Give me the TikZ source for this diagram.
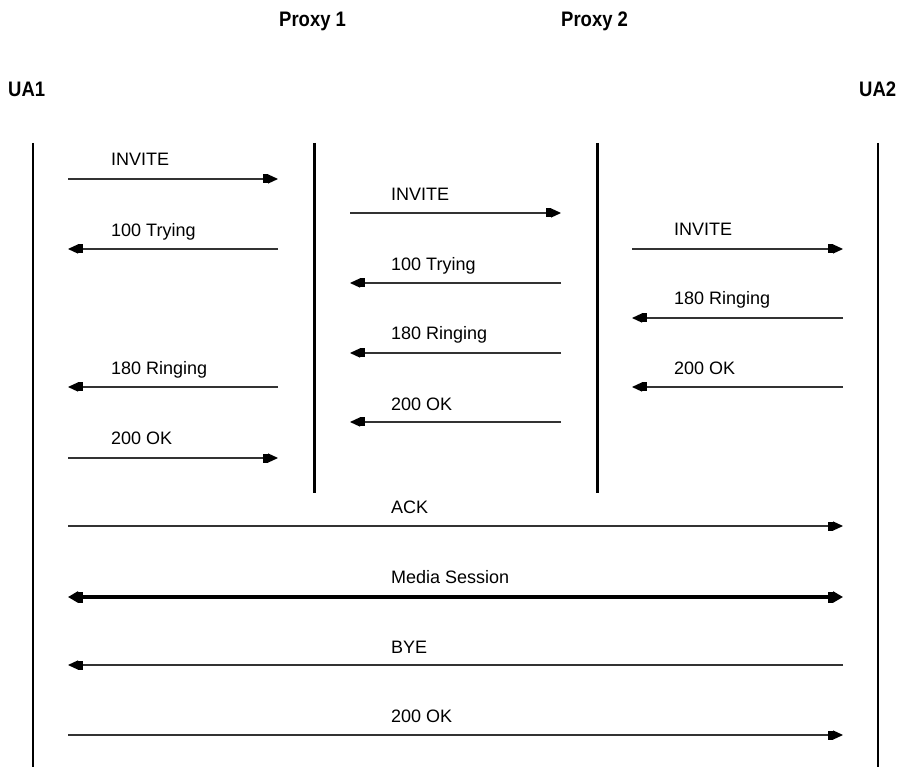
\documentclass[tikz,border=0pt]{standalone}
\usepackage{fontspec}
\setmainfont{Liberation Sans}
\newfontfamily\hdrfont[FakeStretch=0.88]{Liberation Sans}
\usetikzlibrary{arrows.meta}

\tikzset{
  lifeline/.style={line width=2pt, black},
  proxyline/.style={line width=3pt, black},
  head/.style={-{Rectangle[length=5pt,width=9pt,color=black]Triangle[length=10pt,width=9pt,color=black]}},
  msg/.style={draw=black!80, line width=1.2pt, head},
  media/.style={draw=black, line width=4pt,
    {Triangle[length=10pt,width=11pt]Rectangle[length=5pt,width=11pt]}-{Rectangle[length=5pt,width=11pt]Triangle[length=10pt,width=11pt]}},
  lbl/.style={anchor=base west, inner sep=0pt, font=\fontsize{18}{20}\selectfont},
  hdr/.style={anchor=base west, inner sep=0pt, font=\hdrfont\bfseries\fontsize{21}{24}\selectfont}
}

\begin{document}
\begin{tikzpicture}[x=1pt, y=-1pt]
  \useasboundingbox (0,0) rectangle (903,767);

  % participant headings
  \node[hdr] (hP1) at (279,27) {Proxy 1};
  \node[hdr] (hP2) at (561,27) {Proxy 2};
  \node[hdr] (hUA1) at (8,97) {UA1};
  \node[hdr] (hUA2) at (859,97) {UA2};

  % lifelines
  \coordinate (ua1t) at (33,143);  \coordinate (ua1b) at (33,767);
  \coordinate (p1t)  at (314,143); \coordinate (p1b)  at (314,493);
  \coordinate (p2t)  at (597,143); \coordinate (p2b)  at (597,493);
  \coordinate (ua2t) at (878,143); \coordinate (ua2b) at (878,767);
  \draw[lifeline]  (ua1t) -- (ua1b);
  \draw[proxyline] (p1t) -- (p1b);
  \draw[proxyline] (p2t) -- (p2b);
  \draw[lifeline]  (ua2t) -- (ua2b);

  % UA1 <-> Proxy 1
  \coordinate (m1a) at (68,179);  \coordinate (m1b) at (278,179);
  \draw[msg] (m1a) -- (m1b);
  \node[lbl] (t1) at (111,166) {INVITE};

  \coordinate (m2a) at (278,249); \coordinate (m2b) at (68,249);
  \draw[msg] (m2a) -- (m2b);
  \node[lbl] (t2) at (111,237) {100 Trying};

  \coordinate (m3a) at (278,387); \coordinate (m3b) at (68,387);
  \draw[msg] (m3a) -- (m3b);
  \node[lbl] (t3) at (111,375) {180 Ringing};

  \coordinate (m4a) at (68,458);  \coordinate (m4b) at (278,458);
  \draw[msg] (m4a) -- (m4b);
  \node[lbl] (t4) at (111,445) {200 OK};

  % Proxy 1 <-> Proxy 2
  \coordinate (n1a) at (350,213); \coordinate (n1b) at (561,213);
  \draw[msg] (n1a) -- (n1b);
  \node[lbl] (u1) at (391,201) {INVITE};

  \coordinate (n2a) at (561,283); \coordinate (n2b) at (350,283);
  \draw[msg] (n2a) -- (n2b);
  \node[lbl] (u2) at (391,271) {100 Trying};

  \coordinate (n3a) at (561,353); \coordinate (n3b) at (350,353);
  \draw[msg] (n3a) -- (n3b);
  \node[lbl] (u3) at (391,340) {180 Ringing};

  \coordinate (n4a) at (561,422); \coordinate (n4b) at (350,422);
  \draw[msg] (n4a) -- (n4b);
  \node[lbl] (u4) at (391,410) {200 OK};

  % Proxy 2 <-> UA2
  \coordinate (r1a) at (632,249); \coordinate (r1b) at (843,249);
  \draw[msg] (r1a) -- (r1b);
  \node[lbl] (v1) at (674,236) {INVITE};

  \coordinate (r2a) at (843,318); \coordinate (r2b) at (632,318);
  \draw[msg] (r2a) -- (r2b);
  \node[lbl] (v2) at (674,305) {180 Ringing};

  \coordinate (r3a) at (843,387); \coordinate (r3b) at (632,387);
  \draw[msg] (r3a) -- (r3b);
  \node[lbl] (v3) at (674,375) {200 OK};

  % end-to-end exchanges
  \coordinate (e1a) at (68,526);  \coordinate (e1b) at (843,526);
  \draw[msg] (e1a) -- (e1b);
  \node[lbl] (w1) at (391,513) {ACK};

  \coordinate (e2a) at (68,597);  \coordinate (e2b) at (843,597);
  \draw[media] (e2a) -- (e2b);
  \node[lbl] (w2) at (391,583) {Media Session};

  \coordinate (e3a) at (843,665); \coordinate (e3b) at (68,665);
  \draw[msg] (e3a) -- (e3b);
  \node[lbl] (w3) at (391,653) {BYE};

  \coordinate (e4a) at (68,735);  \coordinate (e4b) at (843,735);
  \draw[msg] (e4a) -- (e4b);
  \node[lbl] (w4) at (391,722) {200 OK};
\end{tikzpicture}
\end{document}
